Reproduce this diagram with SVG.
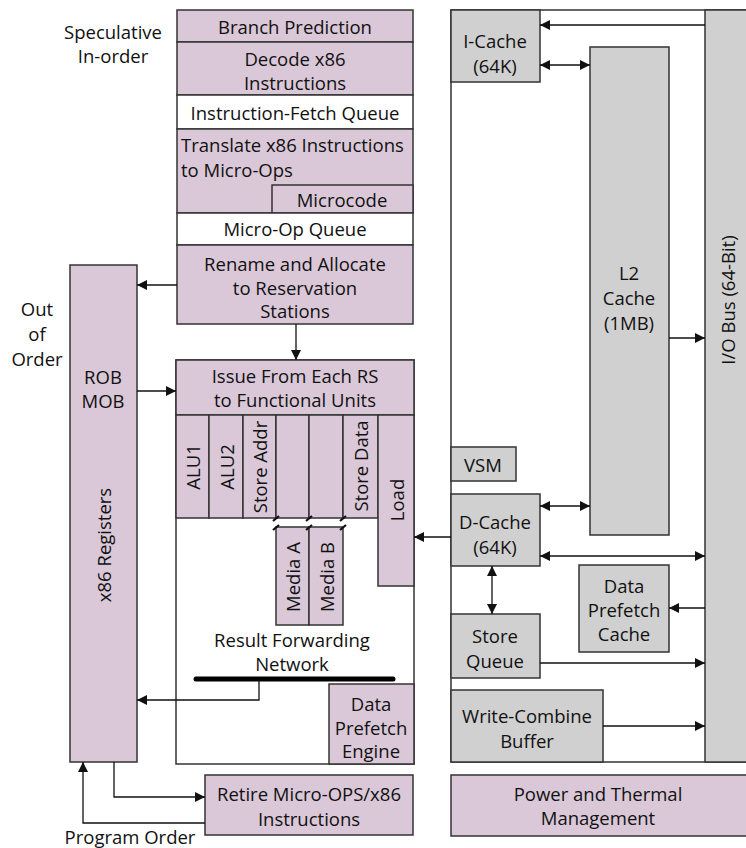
<svg xmlns="http://www.w3.org/2000/svg" width="746" height="848" viewBox="0 0 746 848">
<defs>
<style>
text{font-family:"Open Sans","Noto Sans","DejaVu Sans",sans-serif;font-size:18.5px;fill:#111;text-anchor:middle;dominant-baseline:central}
.p{fill:#dac8d8;stroke:#333;stroke-width:1.5}
.g{fill:#d0d0d0;stroke:#333;stroke-width:1.5}
.w{fill:#fff;stroke:#333;stroke-width:1.5}
.c{fill:none;stroke:#111;stroke-width:1.3}
.l{text-anchor:start}
</style>
<marker id="ah" viewBox="0 0 10 10" refX="10" refY="5" markerWidth="10" markerHeight="10" markerUnits="userSpaceOnUse" orient="auto-start-reverse">
<path d="M0,0 L10,5 L0,10 z" fill="#111"/>
</marker>
</defs>
<rect width="746" height="848" fill="#fff"/>

<g id="labels">
<text x="113" y="31">Speculative</text>
<text x="113" y="55">In-order</text>
<text x="37" y="308">Out</text>
<text x="37" y="333">of</text>
<text x="37" y="358">Order</text>
<text x="130" y="836">Program Order</text>
</g>

<g id="frontend">
<g id="branch"><rect class="p" x="177" y="10" width="236" height="32"/><text x="295" y="26">Branch Prediction</text></g>
<g id="decode"><rect class="p" x="177" y="42" width="236" height="53"/><text x="295" y="58">Decode x86</text><text x="295" y="82">Instructions</text></g>
<g id="ifq"><rect class="w" x="177" y="95" width="236" height="34"/><text x="295" y="112">Instruction-Fetch Queue</text></g>
<g id="translate"><rect class="p" x="177" y="129" width="236" height="84"/><text class="l" x="181" y="144">Translate x86 Instructions</text><text class="l" x="181" y="169">to Micro-Ops</text></g>
<g id="microcode"><rect class="p" x="272" y="185" width="141" height="28"/><text x="342" y="199">Microcode</text></g>
<g id="uopq"><rect class="w" x="177" y="213" width="236" height="32"/><text x="295" y="228">Micro-Op Queue</text></g>
<g id="rename"><rect class="p" x="177" y="245" width="236" height="79"/><text x="295" y="263">Rename and Allocate</text><text x="295" y="287">to Reservation</text><text x="295" y="310">Stations</text></g>
</g>

<g id="rob"><rect class="p" x="70" y="265" width="67" height="497"/><text x="103" y="376">ROB</text><text x="103" y="400">MOB</text><text transform="translate(103,545) rotate(-90)">x86 Registers</text></g>

<g id="exec">
<rect class="w" x="176" y="360" width="238" height="404"/>
<g id="issue"><rect class="p" x="176" y="360" width="238" height="55"/><text x="295" y="375">Issue From Each RS</text><text x="295" y="399">to Functional Units</text></g>
<g id="alu1"><rect class="p" x="176" y="415" width="33" height="103"/><text transform="translate(192,467) rotate(-90)">ALU1</text></g>
<g id="alu2"><rect class="p" x="209" y="415" width="34" height="103"/><text transform="translate(226,467) rotate(-90)">ALU2</text></g>
<g id="staddr"><rect class="p" x="243" y="415" width="33" height="103"/><text transform="translate(259,467) rotate(-90)">Store Addr</text></g>
<g id="mediaAtop"><rect class="p" x="276" y="415" width="33" height="103"/></g>
<g id="mediaBtop"><rect class="p" x="309" y="415" width="34" height="103"/></g>
<g id="stdata"><rect class="p" x="343" y="415" width="35" height="103"/><text transform="translate(360,466) rotate(-90)">Store Data</text></g>
<g id="load"><rect class="p" x="378" y="415" width="36" height="171"/><text transform="translate(396,500) rotate(-90)">Load</text></g>
<g id="mediaA"><rect class="p" x="276" y="527" width="33" height="98"/><text transform="translate(292,577) rotate(-90)">Media A</text></g>
<g id="mediaB"><rect class="p" x="309" y="527" width="34" height="98"/><text transform="translate(326,577) rotate(-90)">Media B</text></g>
<g id="breaks" stroke="#111" stroke-width="2.2">
<path d="M273,521 L279,516 M306,521 L312,516 M340,521 L346,516 M273,530 L279,525 M306,530 L312,525 M340,530 L346,525"/>
</g>
<g id="rfn"><text x="292" y="639">Result Forwarding</text><text x="292" y="663">Network</text>
<line x1="196" y1="679" x2="393" y2="679" stroke="#000" stroke-width="5" stroke-linecap="round"/></g>
<g id="dpe"><rect class="p" x="329" y="684" width="85" height="80"/><text x="371" y="703">Data</text><text x="371" y="727">Prefetch</text><text x="371" y="750">Engine</text></g>
</g>

<g id="retire"><rect class="p" x="205" y="775" width="208" height="60"/><text x="309" y="793">Retire Micro-OPS/x86</text><text x="309" y="818">Instructions</text></g>

<g id="memframe">
<rect class="w" x="451" y="10" width="300" height="752"/>
<g id="iobus"><rect class="g" x="705" y="10" width="46" height="752"/><text transform="translate(727,300) rotate(-90)">I/O Bus (64-Bit)</text></g>
<g id="icache"><rect class="g" x="451" y="10" width="89" height="72"/><text x="495" y="40">I-Cache</text><text x="495" y="65">(64K)</text></g>
<g id="l2"><rect class="g" x="590" y="47" width="79" height="488"/><text x="629" y="272">L2</text><text x="629" y="297">Cache</text><text x="629" y="322">(1MB)</text></g>
<g id="vsm"><rect class="g" x="451" y="447" width="65" height="34"/><text x="483" y="464">VSM</text></g>
<g id="dcache"><rect class="g" x="451" y="494" width="89" height="72"/><text x="495" y="521">D-Cache</text><text x="495" y="546">(64K)</text></g>
<g id="dpc"><rect class="g" x="579" y="565" width="90" height="87"/><text x="624" y="585">Data</text><text x="624" y="609">Prefetch</text><text x="624" y="633">Cache</text></g>
<g id="storeq"><rect class="g" x="451" y="614" width="89" height="64"/><text x="495" y="635">Store</text><text x="495" y="660">Queue</text></g>
<g id="wcb"><rect class="g" x="451" y="690" width="152" height="72"/><text x="527" y="715">Write-Combine</text><text x="527" y="740">Buffer</text></g>
</g>
<g id="power"><rect class="p" x="451" y="775" width="300" height="61"/><text x="598" y="793">Power and Thermal</text><text x="598" y="817">Management</text></g>

<g id="connectors">
<path class="c" d="M177,285 L137,285" marker-end="url(#ah)"/>
<path class="c" d="M137,391 L176,391" marker-end="url(#ah)"/>
<path class="c" d="M296,324 L296,360" marker-end="url(#ah)"/>
<path class="c" d="M259,680 L259,700 L137,700" marker-end="url(#ah)"/>
<path class="c" d="M114,762 L114,797 L205,797" marker-end="url(#ah)"/>
<path class="c" d="M205,823 L83,823 L83,762" marker-end="url(#ah)"/>
<path class="c" d="M705,25 L540,25" marker-end="url(#ah)"/>
<path class="c" d="M540,65 L590,65" marker-start="url(#ah)" marker-end="url(#ah)"/>
<path class="c" d="M669,338 L705,338" marker-end="url(#ah)"/>
<path class="c" d="M540,506 L590,506" marker-start="url(#ah)" marker-end="url(#ah)"/>
<path class="c" d="M540,556 L705,556" marker-start="url(#ah)" marker-end="url(#ah)"/>
<path class="c" d="M451,537 L414,537" marker-end="url(#ah)"/>
<path class="c" d="M492,566 L492,614" marker-start="url(#ah)" marker-end="url(#ah)"/>
<path class="c" d="M540,663 L705,663" marker-end="url(#ah)"/>
<path class="c" d="M705,608 L669,608" marker-end="url(#ah)"/>
<path class="c" d="M603,726 L705,726" marker-end="url(#ah)"/>
</g>
</svg>
